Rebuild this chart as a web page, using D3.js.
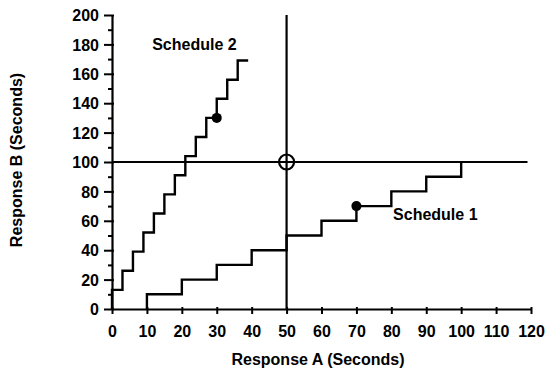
<!DOCTYPE html>
<html>
<head>
<meta charset="utf-8">
<script src="https://cdn.jsdelivr.net/npm/d3@7"></script>
<style>
  html, body { margin: 0; padding: 0; background: #fff; }
  svg text { font-family: "Liberation Sans", Arial, Helvetica, sans-serif; font-weight: bold; fill: #000; }
</style>
</head>
<body>
<svg id="chart" width="547" height="372"></svg>
<script>
// Response B as a function of Response A for two schedules (step functions)
const xTicks = [0, 10, 20, 30, 40, 50, 60, 70, 80, 90, 100, 110, 120];
const yTicks = [0, 20, 40, 60, 80, 100, 120, 140, 160, 180, 200];
const yMinorTicks = [10, 30, 50, 70, 90, 110, 130, 150, 170, 190];

// Schedule 1: B steps up 10 s for every 10 s of A, starting at A = 10
const schedule1A = [10, 10, 20, 30, 40, 50, 60, 70, 80, 90, 100];
const schedule1B = [0, 10, 20, 30, 40, 50, 60, 70, 80, 90, 100];

// Schedule 2: B steps up 13 s for every 3 s of A
const schedule2A = [0, 0, 3, 6, 9, 12, 15, 18, 21, 24, 27, 30, 33, 36, 39];
const schedule2B = [0, 13, 26, 39, 52, 65, 78, 91, 104, 117, 130, 143, 156, 169, 169];

// Highlighted points
const dotA = [30, 70];
const dotB = [130, 70];

// Indifference point and its reference lines
const refA = 50;
const refB = 100;
const refLineEndA = 119;

const labels = [
  { text: "Schedule 2", a: 11.5, b: 176 },
  { text: "Schedule 1", a: 80.5, b: 60.5 }
];

const svg = d3.select("#chart");
const x = d3.scaleLinear().domain([0, 120]).range([112, 531]);
const y = d3.scaleLinear().domain([0, 200]).range([309, 15]);

const ink = "#000";

// Minor y ticks
svg.append("g")
  .attr("transform", `translate(${x(0)},0)`)
  .call(d3.axisLeft(y).tickValues(yMinorTicks).tickSize(4).tickFormat(""))
  .call(g => g.select(".domain").remove())
  .call(g => g.selectAll("line").attr("stroke", ink).attr("stroke-width", 2));

// Major y axis
const yAxis = svg.append("g")
  .attr("transform", `translate(${x(0)},0)`)
  .call(d3.axisLeft(y).tickValues(yTicks).tickSizeInner(8).tickSizeOuter(0).tickPadding(5));
yAxis.select(".domain").attr("stroke", ink).attr("stroke-width", 2.2);
yAxis.selectAll(".tick line").attr("stroke", ink).attr("stroke-width", 2).attr("x2", 2).attr("x1", -8);
yAxis.selectAll(".tick text").style("font-size", "16px").attr("dy", "0.35em");

// X axis
const xAxis = svg.append("g")
  .attr("transform", `translate(0,${y(0)})`)
  .call(d3.axisBottom(x).tickValues(xTicks).tickSizeInner(5).tickSizeOuter(0).tickPadding(12));
xAxis.select(".domain").attr("stroke", ink).attr("stroke-width", 2.2);
xAxis.selectAll(".tick line").attr("stroke", ink).attr("stroke-width", 2).attr("y1", -2);
xAxis.selectAll(".tick text").style("font-size", "16px").attr("dy", "0.71em");

// Reference lines through the indifference point
svg.append("line")
  .attr("x1", x(refA)).attr("x2", x(refA))
  .attr("y1", y(0)).attr("y2", y(200))
  .attr("stroke", ink).attr("stroke-width", 2.2);
svg.append("line")
  .attr("x1", x(0)).attr("x2", x(refLineEndA))
  .attr("y1", y(refB)).attr("y2", y(refB))
  .attr("stroke", ink).attr("stroke-width", 2.2);

// Step functions
const line = d3.line()
  .x(d => x(d[0]))
  .y(d => y(d[1]))
  .curve(d3.curveStepAfter);

const s1 = schedule1A.map((a, i) => [a, schedule1B[i]]);
const s2 = schedule2A.map((a, i) => [a, schedule2B[i]]);

[s1, s2].forEach(pts => {
  svg.append("path")
    .attr("d", line(pts))
    .attr("fill", "none")
    .attr("stroke", ink)
    .attr("stroke-width", 2.4)
    .attr("stroke-linejoin", "miter");
});

// Filled points
svg.selectAll("circle.dot")
  .data(dotA.map((a, i) => [a, dotB[i]]))
  .join("circle")
  .attr("class", "dot")
  .attr("cx", d => x(d[0]))
  .attr("cy", d => y(d[1]))
  .attr("r", 5)
  .attr("fill", ink);

// Open circle at the indifference point
svg.append("circle")
  .attr("cx", x(refA)).attr("cy", y(refB))
  .attr("r", 7.5)
  .attr("fill", "none")
  .attr("stroke", ink)
  .attr("stroke-width", 2.2);

// Schedule labels
svg.selectAll("text.sched")
  .data(labels)
  .join("text")
  .attr("class", "sched")
  .attr("x", d => x(d.a))
  .attr("y", d => y(d.b))
  .style("font-size", "16px")
  .text(d => d.text);

// Axis titles
svg.append("text")
  .attr("x", 318).attr("y", 365)
  .attr("text-anchor", "middle")
  .style("font-size", "16px")
  .text("Response A (Seconds)");

svg.append("text")
  .attr("transform", "translate(22,160) rotate(-90)")
  .attr("text-anchor", "middle")
  .style("font-size", "16px")
  .text("Response B (Seconds)");
</script>
</body>
</html>
